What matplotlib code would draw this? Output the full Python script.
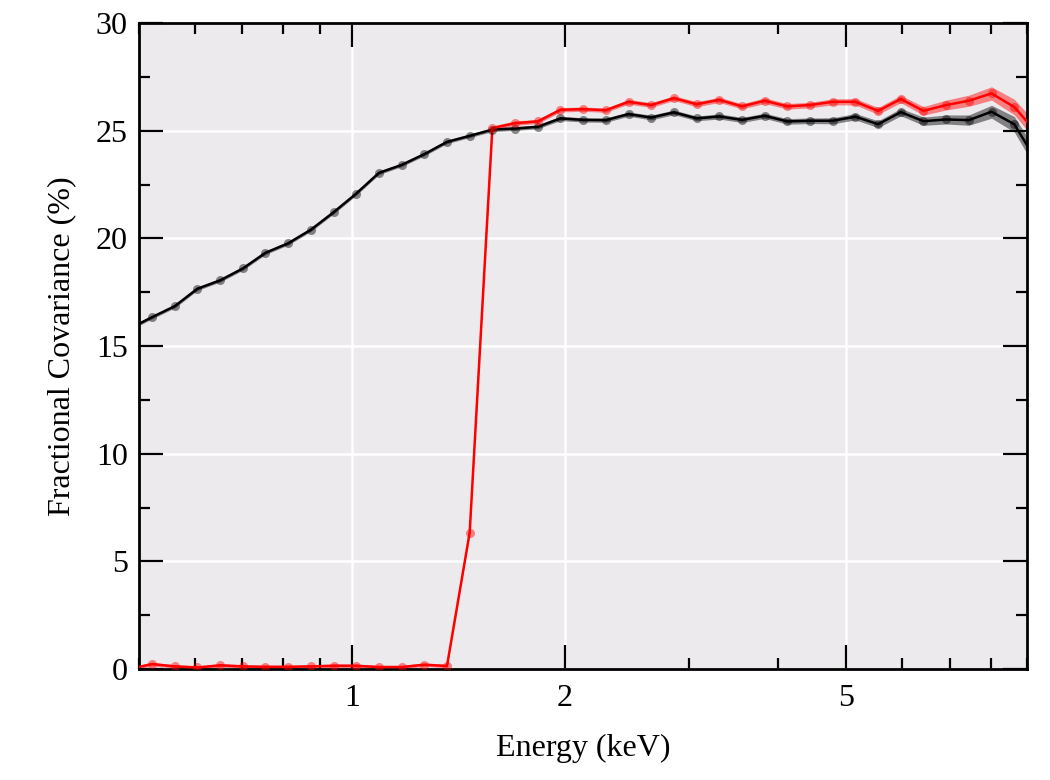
import matplotlib
matplotlib.use("Agg")
import matplotlib.pyplot as plt
from matplotlib.ticker import FixedLocator, MultipleLocator, LogLocator, NullFormatter, FixedFormatter

plt.rcParams['font.family'] = ['Liberation Serif', 'DejaVu Serif']

energy = [0.4845, 0.5217, 0.5617, 0.6046, 0.6511, 0.7010, 0.7547, 0.8125, 0.8748, 0.9419,
          1.0141, 1.0917, 1.1755, 1.2656, 1.3626, 1.4670, 1.5795, 1.7006, 1.8310, 1.9714,
          2.1225, 2.2853, 2.4604, 2.6490, 2.8520, 3.0708, 3.3062, 3.5597, 3.8325, 4.1264,
          4.4426, 4.7832, 5.1499, 5.5447, 5.9700, 6.4270, 6.9196, 7.4501, 8.0213, 8.6368,
          9.2967]

cov_black = [15.80, 16.34, 16.85, 17.66, 18.05, 18.60, 19.33, 19.77, 20.40, 21.21,
             22.08, 23.04, 23.41, 23.91, 24.48, 24.76, 25.05, 25.10, 25.18, 25.57,
             25.50, 25.49, 25.77, 25.61, 25.85, 25.57, 25.66, 25.50, 25.69, 25.43,
             25.46, 25.46, 25.65, 25.30, 25.86, 25.44, 25.52, 25.49, 25.88, 25.30,
             23.58]

cov_red = [0.00, 0.23, 0.12, 0.07, 0.17, 0.12, 0.10, 0.10, 0.12, 0.15,
           0.15, 0.09, 0.09, 0.20, 0.14, 6.33, 25.12, 25.35, 25.43, 25.97,
           26.00, 25.95, 26.34, 26.19, 26.51, 26.23, 26.43, 26.13, 26.39, 26.13,
           26.19, 26.34, 26.34, 25.92, 26.47, 25.92, 26.19, 26.39, 26.73, 26.10,
           24.90]

err_black = [0.08, 0.08, 0.08, 0.08, 0.08, 0.08, 0.08, 0.08, 0.08, 0.08,
             0.08, 0.08, 0.08, 0.08, 0.08, 0.08, 0.09, 0.09, 0.09, 0.10,
             0.10, 0.10, 0.10, 0.11, 0.11, 0.11, 0.12, 0.12, 0.12, 0.13,
             0.13, 0.14, 0.15, 0.16, 0.17, 0.19, 0.21, 0.24, 0.30, 0.36,
             0.42]

err_red = [0.08, 0.08, 0.08, 0.08, 0.08, 0.08, 0.08, 0.08, 0.08, 0.08,
           0.08, 0.08, 0.08, 0.08, 0.08, 0.10, 0.10, 0.10, 0.10, 0.10,
           0.10, 0.10, 0.11, 0.11, 0.11, 0.12, 0.12, 0.12, 0.13, 0.13,
           0.13, 0.14, 0.15, 0.16, 0.17, 0.20, 0.23, 0.26, 0.31, 0.36,
           0.42]

x_major = [1, 2, 5]
x_major_labels = ['1', '2', '5']

fig = plt.figure(figsize=(10.5, 7.8), dpi=100)
ax = fig.add_axes([0.1324, 0.1423, 0.8456, 0.8282])
ax.set_facecolor('#ECEAED')

ax.set_xscale('log')
ax.set_xlim(0.5, 9.0)
ax.set_ylim(0, 30)

ax.grid(True, which='major', color='white', linewidth=1.8, zorder=0)
ax.set_axisbelow(True)

for y, e, c in [(cov_black, err_black, 'black'), (cov_red, err_red, 'red')]:
    lo = [a - b for a, b in zip(y, e)]
    hi = [a + b for a, b in zip(y, e)]
    ax.fill_between(energy, lo, hi, color=c, alpha=0.45, linewidth=0, zorder=2)
    ax.plot(energy, y, color=c, linewidth=1.8, zorder=3)
    ax.plot(energy, y, linestyle='none', marker='o', markersize=6.5,
            color=c, alpha=0.45, markeredgewidth=0, zorder=4)

ax.xaxis.set_major_locator(FixedLocator(x_major))
ax.xaxis.set_major_formatter(FixedFormatter(x_major_labels))
ax.xaxis.set_minor_locator(LogLocator(base=10, subs=[2, 3, 4, 5, 6, 7, 8, 9]))
ax.xaxis.set_minor_formatter(NullFormatter())
ax.yaxis.set_major_locator(MultipleLocator(5))
ax.yaxis.set_minor_locator(MultipleLocator(2.5))

ax.tick_params(which='both', direction='in', top=True, right=True, labelsize=23,
               width=1.6, color='black')
ax.tick_params(axis='x', which='major', length=17, pad=11)
ax.tick_params(axis='y', which='major', length=17, pad=8)
ax.tick_params(which='minor', length=8)

for s in ax.spines.values():
    s.set_linewidth(2.0)

ax.set_xlabel('Energy (keV)', fontsize=23, labelpad=15)
ax.set_ylabel('Fractional Covariance (%)', fontsize=23, labelpad=14)

fig.savefig('out.png', dpi=100)
